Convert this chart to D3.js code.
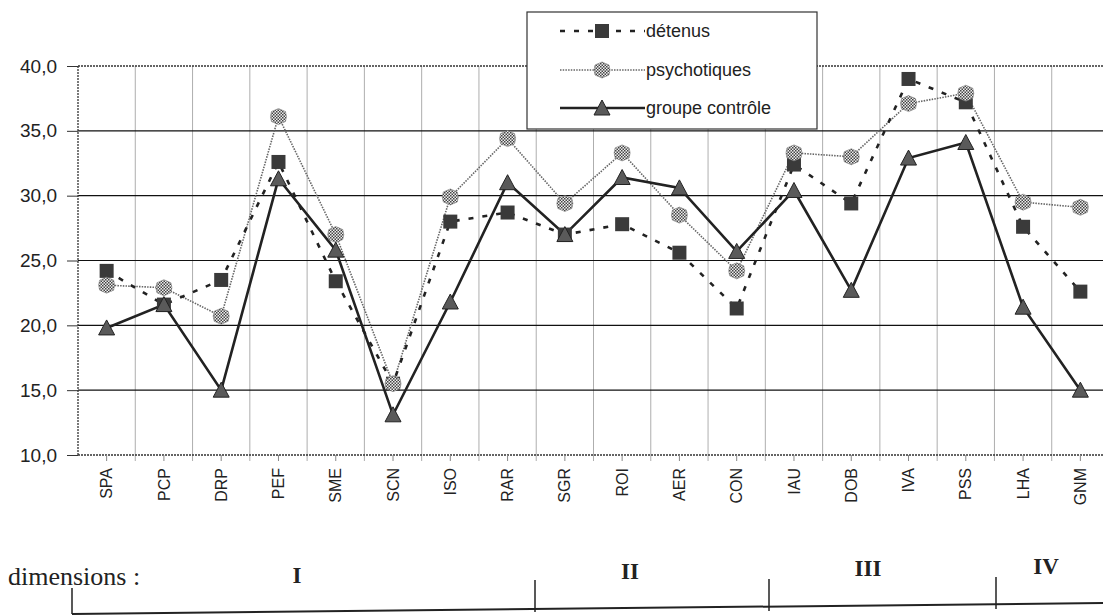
<!DOCTYPE html>
<html><head><meta charset="utf-8">
<script src="https://cdn.jsdelivr.net/npm/d3@7"></script>
<style>body{margin:0;background:#fff}svg{display:block}</style>
</head><body>
<svg id="c" width="1103" height="616"></svg>
<script>
const categories=["SPA","PCP","DRP","PEF","SME","SCN","ISO","RAR","SGR","ROI","AER","CON","IAU","DOB","IVA","PSS","LHA","GNM"];
const detenus=[24.2,21.6,23.5,32.6,23.4,15.5,28.0,28.7,27.0,27.8,25.6,21.3,32.4,29.4,39.0,37.2,27.6,22.6];
const psychotiques=[23.1,22.9,20.7,36.1,27.0,15.5,29.9,34.4,29.4,33.3,28.5,24.2,33.3,33.0,37.1,37.9,29.5,29.1];
const controle=[19.8,21.6,15.0,31.3,25.8,13.1,21.8,31.0,27.0,31.4,30.6,25.7,30.4,22.7,32.9,34.1,21.4,15.0];
const yTicks=[10,15,20,25,30,35,40];
const seriesNames=["détenus","psychotiques","groupe contrôle"];
const dimensionLabels=["I","II","III","IV"];

const svg=d3.select("#c");
const L=78,R=1109,T=66,B=455;
const x=d3.scaleBand().domain(categories).range([L,R]);
const y=d3.scaleLinear().domain([10,40]).range([B,T]);

const defs=svg.append("defs");
const pat=defs.append("pattern").attr("id","chk").attr("width",3).attr("height",3).attr("patternUnits","userSpaceOnUse");
pat.append("rect").attr("width",3).attr("height",3).attr("fill","#eee");
pat.append("rect").attr("width",1.5).attr("height",1.5).attr("fill","#444");
pat.append("rect").attr("x",1.5).attr("y",1.5).attr("width",1.5).attr("height",1.5).attr("fill","#444");

// vertical gridlines
svg.append("g").selectAll("line").data(categories.slice(1)).join("line")
  .attr("x1",d=>x(d)).attr("x2",d=>x(d)).attr("y1",T).attr("y2",B+6)
  .attr("stroke","#999").attr("stroke-width",0.8);
// horizontal gridlines
svg.append("g").selectAll("line").data(yTicks.slice(1,-1)).join("line")
  .attr("x1",L).attr("x2",R).attr("y1",d=>y(d)).attr("y2",d=>y(d))
  .attr("stroke","#111").attr("stroke-width",1.2);
// frame
svg.append("line").attr("x1",L).attr("x2",R).attr("y1",T).attr("y2",T).attr("stroke","#333").attr("stroke-width",1.5).attr("stroke-dasharray","2,1");
svg.append("line").attr("x1",L).attr("x2",R).attr("y1",B).attr("y2",B).attr("stroke","#333").attr("stroke-width",1.5).attr("stroke-dasharray","2,1");
svg.append("line").attr("x1",L).attr("x2",L).attr("y1",T).attr("y2",B).attr("stroke","#333").attr("stroke-width",1.3).attr("stroke-dasharray","2,1");

// y axis
const ya=svg.append("g").attr("transform",`translate(${L},0)`)
  .call(d3.axisLeft(y).tickValues(yTicks).tickSize(11).tickPadding(10).tickFormat(d=>d3.format(".1f")(d).replace(".",",")));
ya.select(".domain").remove();
ya.selectAll("text").attr("font-family","Liberation Sans, Arial").attr("font-size",19).attr("fill","#222");
ya.selectAll("line").attr("stroke","#333");

// x axis labels
const xa=svg.append("g").attr("transform",`translate(0,${B})`)
  .call(d3.axisBottom(x).tickSize(6));
xa.select(".domain").remove();
xa.selectAll("line").attr("stroke","#888");
xa.selectAll("text").attr("font-family","Liberation Sans, Arial").attr("font-size",16).attr("fill","#222")
  .attr("transform","rotate(-90)").attr("text-anchor","end").attr("x",-13).attr("y",0).attr("dy","0.35em");

const cx=d=>x(d)+x.bandwidth()/2;
const line=vals=>d3.line().x((v,i)=>cx(categories[i])).y(v=>y(v))(vals);

// lines
svg.append("path").attr("d",line(psychotiques)).attr("fill","none").attr("stroke","#666").attr("stroke-width",1.6).attr("stroke-dasharray","1.5,1.2");
svg.append("path").attr("d",line(detenus)).attr("fill","none").attr("stroke","#222").attr("stroke-width",2.6).attr("stroke-dasharray","5,9");
svg.append("path").attr("d",line(controle)).attr("fill","none").attr("stroke","#222").attr("stroke-width",2.6);

function sq(g,px,py){g.append("rect").attr("x",px-7).attr("y",py-7).attr("width",14).attr("height",14).attr("fill","#3a3a3a");}
function ps(g,px,py){g.append("path").attr("d",`M${px},${py-8}L${px+7},${py-5}L${px+8},${py}L${px+7},${py+5}L${px},${py+8}L${px-7},${py+5}L${px-8},${py}L${px-7},${py-5}Z`).attr("fill","url(#chk)").attr("stroke","#777").attr("stroke-width",0.6);}
function tr(g,px,py){g.append("path").attr("d",`M${px},${py-8}L${px+8},${py+7}L${px-8},${py+7}Z`).attr("fill","#5a5a5a").attr("stroke","#222").attr("stroke-width",1);}

const mk=svg.append("g");
detenus.forEach((v,i)=>sq(mk,cx(categories[i]),y(v)));
psychotiques.forEach((v,i)=>ps(mk,cx(categories[i]),y(v)));
controle.forEach((v,i)=>tr(mk,cx(categories[i]),y(v)));

// legend
const lg=svg.append("g");
lg.append("rect").attr("x",527).attr("y",12).attr("width",290).attr("height",117).attr("fill","#fff").attr("stroke","#333").attr("stroke-width",1.2);
const ly=[31,70,108];
lg.append("line").attr("x1",560).attr("x2",645).attr("y1",ly[0]).attr("y2",ly[0]).attr("stroke","#222").attr("stroke-width",2.6).attr("stroke-dasharray","5,9");
sq(lg,602,ly[0]);
lg.append("line").attr("x1",560).attr("x2",645).attr("y1",ly[1]).attr("y2",ly[1]).attr("stroke","#666").attr("stroke-width",1.6).attr("stroke-dasharray","1.5,1.2");
ps(lg,602,ly[1]);
lg.append("line").attr("x1",560).attr("x2",645).attr("y1",ly[2]).attr("y2",ly[2]).attr("stroke","#222").attr("stroke-width",2.6);
tr(lg,602,ly[2]);
lg.selectAll("text.l").data(seriesNames).join("text").attr("x",646).attr("y",(d,i)=>ly[i]).attr("dy","0.35em")
  .attr("font-family","Liberation Sans, Arial").attr("font-size",18).attr("fill","#222").text(d=>d);

// dimensions
const dg=svg.append("g").attr("font-family","Liberation Serif, Times New Roman").attr("fill","#222");
dg.append("text").attr("x",8).attr("y",585).attr("font-size",26).text("dimensions :");
const dimX=[297,630,868,1046], dimY=[583,579,576,574];
dimensionLabels.forEach((d,i)=>dg.append("text").attr("x",dimX[i]).attr("y",dimY[i]).attr("text-anchor","middle").attr("font-weight","bold").attr("font-size",23).text(d));
svg.append("line").attr("x1",72).attr("y1",614).attr("x2",1103).attr("y2",603).attr("stroke","#222").attr("stroke-width",2);
[[72,588,614],[535,580,612],[769,579,611],[996,577,609]].forEach(t=>svg.append("line").attr("x1",t[0]).attr("x2",t[0]).attr("y1",t[1]).attr("y2",t[2]).attr("stroke","#222").attr("stroke-width",1.5));
</script>
</body></html>
